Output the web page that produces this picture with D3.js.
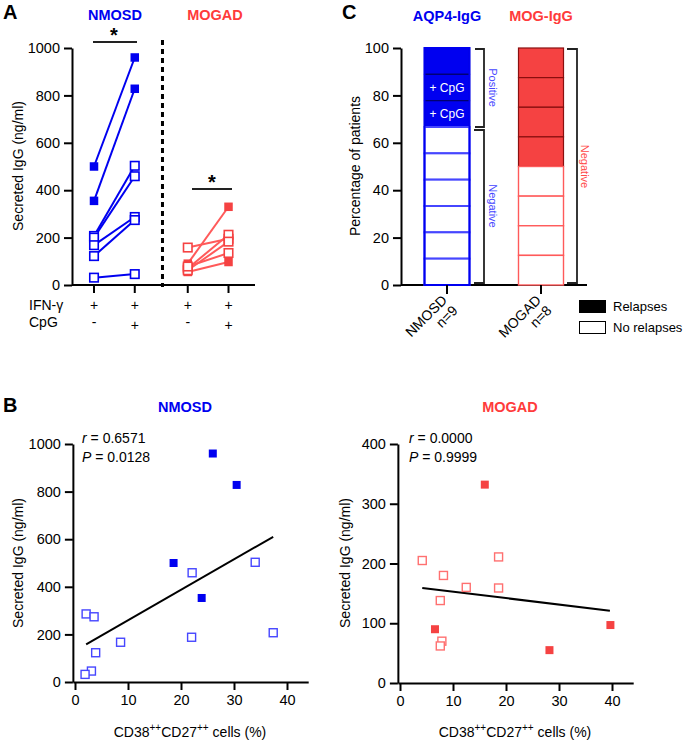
<!DOCTYPE html>
<html><head><meta charset="utf-8">
<script src="https://cdn.jsdelivr.net/npm/d3@7"></script>
<style>
body{margin:0;background:#fff;}
svg{font-family:"Liberation Sans",Arial,sans-serif;}
</style></head>
<body>
<svg id="c" width="684" height="742"></svg>
<script>
// ---------- DATA ----------
// Panel A
const conditions = ["IFN-γ only", "IFN-γ + CpG"];
const ifnRow = ["+", "+", "+", "+"];
const cpgRow = ["-", "+", "-", "+"];
const nmosdBase = [500, 355, 207, 200, 168, 122, 31];
const nmosdCpG  = [960, 828, 503, 459, 287, 274, 46];
const nmosdRel  = [1, 1, 0, 0, 0, 0, 0];
const mogadBase = [90, 55, 158, 70, 62, 78];
const mogadCpG  = [330, 97, 195, 212, 183, 135];
const mogadRel  = [1, 1, 0, 0, 0, 0];
const yTicksA = [0, 200, 400, 600, 800, 1000];
// Panel C
const cohorts = ["NMOSD", "MOGAD"];
const cohortN = [9, 8];
const cohortRelapses = [3, 4];
const cohortHeaders = ["AQP4-IgG", "MOG-IgG"];
const nmosdSegLabels = ["", "+ CpG", "+ CpG"]; // top-down labels in filled segments
const yTicksC = [0, 20, 40, 60, 80, 100];
// Panel B
const nmX = [2.1, 3.6, 3.9, 3.1, 1.9, 8.6, 22.1, 22.0, 34.0, 37.4, 18.6, 23.9, 26.0, 30.5];
const nmY = [286, 274, 123, 46, 32, 167, 459, 188, 503, 207, 500, 353, 960, 828];
const nmR = [0, 0, 0, 0, 0, 0, 0, 0, 0, 0, 1, 1, 1, 1];
const nmFit = [[2.1, 158], [37.4, 610]];
const mgX = [4.2, 8.2, 7.6, 7.9, 7.6, 12.5, 18.6, 18.6, 6.6, 16.0, 28.2, 39.7];
const mgY = [205, 180, 138, 70, 62, 160, 211, 159, 90, 332, 55, 97];
const mgR = [0, 0, 0, 0, 0, 0, 0, 0, 1, 1, 1, 1];
const mgFit = [[4.2, 159], [39.6, 121]];
const xTicksB = [0, 10, 20, 30, 40];
const yTicksBL = [0, 200, 400, 600, 800, 1000];
const yTicksBR = [0, 100, 200, 300, 400];
const statsNM = ["0.6571", "0.0128"];
const statsMG = ["0.0000", "0.9999"];

// ---------- STYLE ----------
const BLUE = "#0000f0", BLUE_L = "#4646ff", NAVY = "#00006e";
const RED = "#f54242", RED_L = "#ff5a5a", DRED = "#8a0f0f";
const svg = d3.select("#c");
const fmt = d3.format("d");

function styleAxis(g) {
  g.selectAll("path.domain").attr("stroke", "#000").attr("stroke-width", 2);
  g.selectAll(".tick line").attr("stroke", "#000").attr("stroke-width", 2);
  g.selectAll(".tick text").attr("font-size", 14.5).attr("fill", "#000")
    .attr("font-family", "Liberation Sans, Arial, sans-serif");
}
function square(g, x, y, s, filled, col, strokeCol, sw) {
  g.append("rect").attr("x", x - s / 2).attr("y", y - s / 2).attr("width", s).attr("height", s)
    .attr("fill", filled ? col : "#fff").attr("stroke", filled ? col : strokeCol).attr("stroke-width", filled ? 0 : sw);
}
function text(g, x, y, t, o = {}) {
  const e = g.append("text").attr("x", x).attr("y", y).text(t)
    .attr("font-size", o.size || 14).attr("fill", o.fill || "#000")
    .attr("font-weight", o.bold ? "bold" : "normal").attr("text-anchor", o.anchor || "start");
  if (o.rotate !== undefined) e.attr("transform", `rotate(${o.rotate},${x},${y})`);
  return e;
}

// ---------- PANEL A ----------
{
  const g = svg.append("g");
  const y = d3.scaleLinear().domain([0, 1000]).range([285, 48]);
  const x = d3.scaleLinear().domain([-0.54, 3.95]).range([72, 255]);
  const pos = [0, 1, 2.3, 3.3];
  g.append("g").attr("transform", "translate(72,0)")
    .call(d3.axisLeft(y).tickValues(yTicksA).tickFormat(fmt).tickSize(8).tickSizeOuter(0).tickPadding(4)).call(styleAxis);
  g.append("line").attr("x1", 72).attr("x2", 255).attr("y1", y(0)).attr("y2", y(0)).attr("stroke", "#000").attr("stroke-width", 2);
  pos.forEach((p, i) => {
    g.append("line").attr("x1", x(p)).attr("x2", x(p)).attr("y1", y(0)).attr("y2", y(0) + 8).attr("stroke", "#000").attr("stroke-width", 2);
    text(g, x(p), 310, ifnRow[i], { anchor: "middle", size: 14 });
    text(g, x(p), cpgRow[i] === "-" ? 327 : 330, cpgRow[i], { anchor: "middle", size: 14 });
  });
  text(g, 29, 310, "IFN-γ", { size: 14 });
  text(g, 29, 327, "CpG", { size: 14 });
  // dashed separator
  g.append("line").attr("x1", x(1.68)).attr("x2", x(1.68)).attr("y1", 40).attr("y2", 287)
    .attr("stroke", "#000").attr("stroke-width", 3).attr("stroke-dasharray", "5,4");
  const drawPairs = (base, cpg, rel, p0, p1, col, lcol, lw) => {
    base.forEach((b, i) => {
      g.append("line").attr("x1", x(p0)).attr("x2", x(p1)).attr("y1", y(b)).attr("y2", y(cpg[i]))
        .attr("stroke", lcol).attr("stroke-width", lw);
    });
    base.forEach((b, i) => {
      square(g, x(p0), y(b), 8.5, rel[i], col, col, 1.6);
      square(g, x(p1), y(cpg[i]), 8.5, rel[i], col, col, 1.6);
    });
  };
  drawPairs(nmosdBase, nmosdCpG, nmosdRel, pos[0], pos[1], BLUE, BLUE, 2);
  drawPairs(mogadBase, mogadCpG, mogadRel, pos[2], pos[3], RED, RED_L, 2);
  // significance
  g.append("line").attr("x1", 93).attr("x2", 137).attr("y1", 42).attr("y2", 42).attr("stroke", "#222").attr("stroke-width", 2);
  text(g, 114, 42, "*", { anchor: "middle", size: 20, bold: true });
  g.append("line").attr("x1", 192).attr("x2", 232).attr("y1", 189).attr("y2", 189).attr("stroke", "#222").attr("stroke-width", 2);
  text(g, 212, 189, "*", { anchor: "middle", size: 20, bold: true });
  // titles
  text(g, 3, 19, "A", { size: 20, bold: true });
  text(g, 115, 20, "NMOSD", { anchor: "middle", size: 14.5, bold: true, fill: BLUE });
  text(g, 215, 20, "MOGAD", { anchor: "middle", size: 14.5, bold: true, fill: "#ff3b3b" });
  text(g, 23, 166, "Secreted IgG (ng/ml)", { anchor: "middle", size: 14, rotate: -90 });
}

// ---------- PANEL C ----------
{
  const g = svg.append("g");
  const y = d3.scaleLinear().domain([0, 100]).range([285, 48]);
  const x = d3.scalePoint().domain(cohorts).range([447, 541]);
  const bw = 45;
  g.append("g").attr("transform", "translate(401,0)")
    .call(d3.axisLeft(y).tickValues(yTicksC).tickFormat(fmt).tickSize(8).tickSizeOuter(0).tickPadding(4)).call(styleAxis);
  g.append("line").attr("x1", 401).attr("x2", 587).attr("y1", y(0)).attr("y2", y(0)).attr("stroke", "#000").attr("stroke-width", 2);
  cohorts.forEach((c, ci) => {
    const n = cohortN[ci], r = cohortRelapses[ci];
    const fill = ci === 0 ? BLUE : RED, sep = ci === 0 ? NAVY : DRED, open = ci === 0 ? BLUE_L : RED_L;
    const step = 100 / n;
    for (let k = 0; k < n; k++) { // k from top
      const top = 100 - k * step, bot = 100 - (k + 1) * step;
      const filled = k < r;
      g.append("rect").attr("x", x(c) - bw / 2).attr("y", y(top)).attr("width", bw).attr("height", y(bot) - y(top))
        .attr("fill", filled ? fill : "#fff")
        .attr("stroke", filled ? sep : open).attr("stroke-width", filled ? 1.2 : (ci === 0 ? 2 : 1.4));
      if (ci === 0 && filled && nmosdSegLabels[k]) {
        text(g, x(c), (y(top) + y(bot)) / 2 + 4.5, nmosdSegLabels[k], { anchor: "middle", size: 12, fill: "#fff" });
      }
    }
    if (ci === 0) {
      g.append("rect").attr("x", x(c) - bw / 2).attr("y", y(100)).attr("width", bw).attr("height", y(0) - y(100))
        .attr("fill", "none").attr("stroke", BLUE).attr("stroke-width", 2);
    }
    g.append("line").attr("x1", x(c)).attr("x2", x(c)).attr("y1", y(0)).attr("y2", y(0) + 9).attr("stroke", "#000").attr("stroke-width", 2);
    text(g, x(c), 21, cohortHeaders[ci], { anchor: "middle", size: 14.5, bold: true, fill: ci === 0 ? BLUE : "#ff3b3b" });
    const lx = x(c) + 1, ly = 301;
    const t = g.append("text").attr("transform", `translate(${lx},${ly}) rotate(-45)`).attr("text-anchor", "end")
      .attr("font-size", 14).attr("fill", "#000");
    t.append("tspan").attr("x", 0).attr("dy", 0).text(c);
    t.append("tspan").attr("x", 0).attr("dy", 15).text("n=" + n);
  });
  const bracket = (x1, x2, ya, yb) => {
    g.append("path").attr("d", `M${x1},${ya}H${x2}V${yb}H${x1}`).attr("fill", "none").attr("stroke", "#222").attr("stroke-width", 1.8);
  };
  const relN = cohortRelapses[0] / cohortN[0] * 100;
  bracket(475, 484, y(100) + 1, y(100 - relN) + 0);
  bracket(474, 484, y(100 - relN) + 3, y(0) - 2);
  bracket(567, 577, y(100) + 1, y(0) - 2);
  text(g, 489, (y(100) + y(100 - relN)) / 2, "Positive", { anchor: "middle", size: 11, fill: BLUE_L, rotate: 90 });
  text(g, 489, (y(100 - relN) + y(0)) / 2, "Negative", { anchor: "middle", size: 11, fill: BLUE_L, rotate: 90 });
  text(g, 581, (y(100) + y(0)) / 2, "Negative", { anchor: "middle", size: 11, fill: "#ff4a4a", rotate: 90 });
  text(g, 342, 19, "C", { size: 20, bold: true });
  text(g, 360, 166, "Percentage of patients", { anchor: "middle", size: 14, rotate: -90 });
  g.append("rect").attr("x", 579).attr("y", 300).attr("width", 27).attr("height", 13).attr("fill", "#000");
  g.append("rect").attr("x", 579.5).attr("y", 321.5).attr("width", 26).attr("height", 12).attr("fill", "#fff").attr("stroke", "#000").attr("stroke-width", 1);
  text(g, 613, 311, "Relapses", { size: 13 });
  text(g, 613, 332, "No relapses", { size: 13 });
}

// ---------- PANEL B ----------
function scatter(opts) {
  const g = svg.append("g");
  const x = d3.scaleLinear().domain([-0.4, 44]).range([opts.x0 - 0.4 * 5.3, opts.x0 + 44 * 5.3]);
  const y = d3.scaleLinear().domain([0, opts.ymax]).range([opts.yb, opts.yt]);
  g.append("g").attr("transform", `translate(${x(-0.4)},0)`)
    .call(d3.axisLeft(y).tickValues(opts.yTicks).tickFormat(fmt).tickSize(8).tickSizeOuter(0).tickPadding(4)).call(styleAxis);
  g.append("g").attr("transform", `translate(0,${y(0)})`)
    .call(d3.axisBottom(x).tickValues(xTicksB).tickFormat(fmt).tickSize(8).tickSizeOuter(0).tickPadding(5)).call(styleAxis);
  g.append("line").attr("x1", x(opts.fit[0][0])).attr("y1", y(opts.fit[0][1]))
    .attr("x2", x(opts.fit[1][0])).attr("y2", y(opts.fit[1][1])).attr("stroke", "#000").attr("stroke-width", 2);
  opts.xs.forEach((v, i) => square(g, x(v), y(opts.ys[i]), 8, opts.rs[i], opts.col, opts.light, 1.4));
  const s1 = g.append("text").attr("x", opts.statX).attr("y", opts.statY).attr("font-size", 14);
  s1.append("tspan").attr("font-style", "italic").text("r");
  s1.append("tspan").text(" = " + opts.stats[0]);
  const s2 = g.append("text").attr("x", opts.statX).attr("y", opts.statY + 19).attr("font-size", 14);
  s2.append("tspan").attr("font-style", "italic").text("P");
  s2.append("tspan").text(" = " + opts.stats[1]);
  text(g, opts.titleX, 412, opts.title, { anchor: "middle", size: 14.5, bold: true, fill: opts.titleCol });
  text(g, opts.ylabX, 563, "Secreted IgG (ng/ml)", { anchor: "middle", size: 14, rotate: -90 });
  const xl = g.append("text").attr("x", opts.xlabX).attr("y", 737).attr("text-anchor", "middle").attr("font-size", 14);
  xl.append("tspan").text("CD38");
  xl.append("tspan").attr("dy", -6).attr("font-size", 10).text("++");
  xl.append("tspan").attr("dy", 6).text("CD27");
  xl.append("tspan").attr("dy", -6).attr("font-size", 10).text("++");
  xl.append("tspan").attr("dy", 6).text(" cells (%)");
}
scatter({ x0: 75, yb: 682, yt: 444, ymax: 1000, yTicks: yTicksBL, xs: nmX, ys: nmY, rs: nmR, fit: nmFit,
  col: BLUE, light: BLUE_L, stats: statsNM, statX: 82, statY: 443, title: "NMOSD", titleX: 185, titleCol: BLUE,
  ylabX: 23, xlabX: 190 });
scatter({ x0: 400, yb: 683, yt: 444, ymax: 400, yTicks: yTicksBR, xs: mgX, ys: mgY, rs: mgR, fit: mgFit,
  col: RED, light: "#ff7070", stats: statsMG, statX: 409, statY: 443, title: "MOGAD", titleX: 510, titleCol: "#ff3b3b",
  ylabX: 350, xlabX: 515 });
text(svg, 3, 412, "B", { size: 20, bold: true });
</script>
</body></html>
